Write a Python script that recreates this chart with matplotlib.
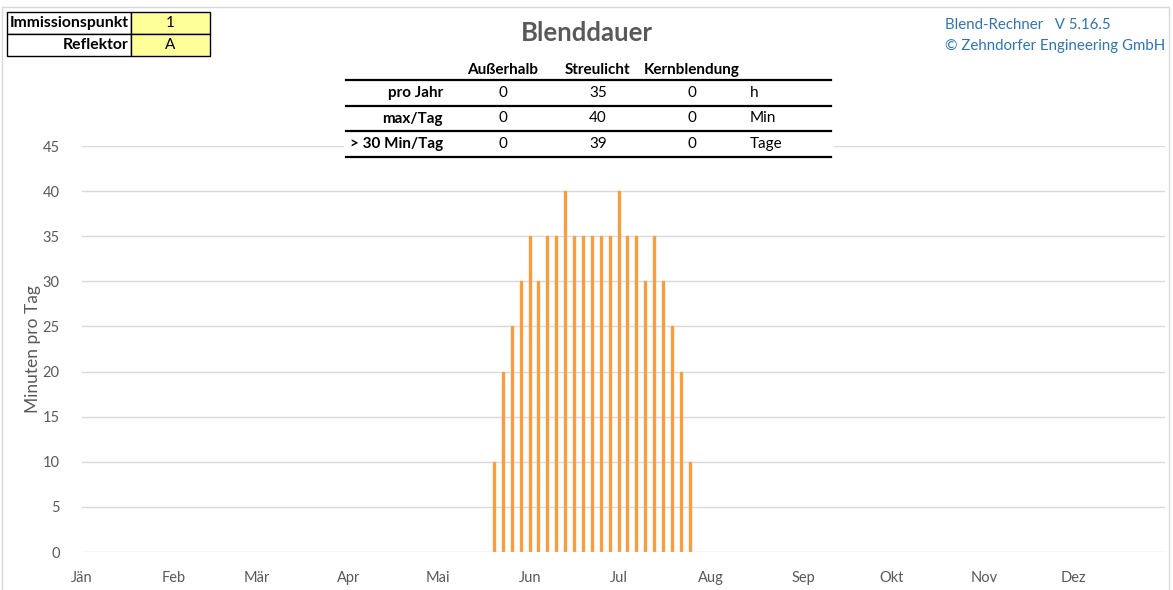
import pandas as pd
import matplotlib.pyplot as plt
from matplotlib.patches import Rectangle
from matplotlib.lines import Line2D

plt.rcParams["font.family"] = ["Lato", "DejaVu Sans"]

# ===== data =====
bar_dates = ["2023-05-20", "2023-05-23", "2023-05-26", "2023-05-29",
             "2023-06-01", "2023-06-04", "2023-06-07", "2023-06-10", "2023-06-13",
             "2023-06-16", "2023-06-19", "2023-06-22", "2023-06-25", "2023-06-28",
             "2023-07-01", "2023-07-04", "2023-07-07", "2023-07-10", "2023-07-13",
             "2023-07-16", "2023-07-19", "2023-07-22", "2023-07-25"]
minutes = [10, 20, 25, 30, 35, 30, 35, 35, 40, 35, 35, 35, 35, 35,
           40, 35, 35, 30, 35, 30, 25, 20, 10]

month_starts = ["2023-01-01", "2023-02-01", "2023-03-01", "2023-04-01", "2023-05-01", "2023-06-01",
                "2023-07-01", "2023-08-01", "2023-09-01", "2023-10-01", "2023-11-01", "2023-12-01"]
month_labels = ["Jän", "Feb", "Mär", "Apr", "Mai", "Jun", "Jul", "Aug", "Sep", "Okt", "Nov", "Dez"]
y_ticks = [0, 5, 10, 15, 20, 25, 30, 35, 40, 45]

table_cols = ["Außerhalb", "Streulicht", "Kernblendung"]
table_rows = ["pro Jahr", "max/Tag", "> 30 Min/Tag"]
table_vals = [["0", "35", "0"], ["0", "40", "0"], ["0", "39", "0"]]
table_units = ["h", "Min", "Tage"]

info_labels = ["Immissionspunkt", "Reflektor"]
info_values = ["1", "A"]

W, H = 1173, 590
GRAY = "#595959"
BLUE = "#2E75B6"


def fx(x):
    return x / W


def fy(y):
    return 1 - y / H


fig = plt.figure(figsize=(W / 100, H / 100), dpi=100)
ax = fig.add_axes([fx(82), fy(552), (1165 - 82) / W, (552 - 146) / H])

x = pd.to_datetime(bar_dates)
ax.bar(x, minutes, width=1.0, color="#F99B3A", edgecolor="#FFB060", linewidth=0.3, zorder=3)

ax.set_xlim(pd.Timestamp("2023-01-01"), pd.Timestamp("2024-01-01"))
ax.set_ylim(0, 45)
ax.set_yticks(y_ticks)
ax.set_xticks(pd.to_datetime(month_starts))
ax.set_xticklabels(month_labels)
ax.tick_params(axis="both", length=0, colors=GRAY, labelsize=10.5)
ax.tick_params(axis="y", pad=16)
ax.tick_params(axis="x", pad=14)
ax.grid(axis="y", color="#D9D9D9", linewidth=1.0, zorder=0)
for s in ax.spines.values():
    s.set_visible(False)
ax.set_ylabel("Minuten pro Tag", fontsize=12.5, color=GRAY, labelpad=1)

# chart border
fig.add_artist(Rectangle((fx(2), fy(592)), fx(1169) - fx(2), fy(7) - fy(592),
                         transform=fig.transFigure, fill=False, edgecolor="#D9D9D9", linewidth=1.0))

# title
fig.text(fx(587), fy(33), "Blenddauer", fontsize=18.5, fontweight="bold", color=GRAY,
         ha="center", va="center")

# copyright
fig.text(fx(945), fy(25), "Blend-Rechner   V 5.16.5", fontsize=10.8, color=BLUE, ha="left", va="center")
fig.text(fx(945), fy(46), "© Zehndorfer Engineering GmbH", fontsize=10.8, color=BLUE, ha="left", va="center")

# info box top left
row_edges = [12, 34, 56]
for i, (lab, val) in enumerate(zip(info_labels, info_values)):
    y0, y1 = row_edges[i], row_edges[i + 1]
    fig.add_artist(Rectangle((fx(7), fy(y1)), fx(131) - fx(7), fy(y0) - fy(y1),
                             transform=fig.transFigure, facecolor="white", edgecolor="black", linewidth=1.0, zorder=5))
    fig.add_artist(Rectangle((fx(131), fy(y1)), fx(210) - fx(131), fy(y0) - fy(y1),
                             transform=fig.transFigure, facecolor="#FFFF99", edgecolor="black", linewidth=1.0, zorder=5))
    yc = fy((y0 + y1) / 2)
    fig.text(fx(129), yc, lab, fontsize=11.3, fontweight="bold", ha="right", va="center", zorder=6)
    fig.text(fx(170), yc, val, fontsize=11, ha="center", va="center", zorder=6)

# summary table
fig.add_artist(Rectangle((fx(344), fy(162)), fx(834) - fx(344), fy(56) - fy(162),
                         transform=fig.transFigure, facecolor="white", edgecolor="none", zorder=4))
col_x = [503, 598, 692]
for cx, c in zip(col_x, table_cols):
    fig.text(fx(cx), fy(70), c, fontsize=11, fontweight="bold", ha="center", va="center", zorder=6)
for ly in [80, 105.5, 131, 156.5]:
    fig.add_artist(Line2D([fx(346), fx(831)], [fy(ly), fy(ly)], transform=fig.transFigure,
                          color="black", linewidth=1.6, zorder=6))
row_y = [93, 118.5, 144]
for ry, rl, vals, u in zip(row_y, table_rows, table_vals, table_units):
    fig.text(fx(443), fy(ry), rl, fontsize=11, fontweight="bold", ha="right", va="center", zorder=6)
    for cx, v in zip(col_x, vals):
        fig.text(fx(cx), fy(ry), v, fontsize=11, ha="center", va="center", zorder=6)
    fig.text(fx(750), fy(ry), u, fontsize=11, ha="left", va="center", zorder=6)

plt.savefig("out.png", dpi=100)
plt.close()
